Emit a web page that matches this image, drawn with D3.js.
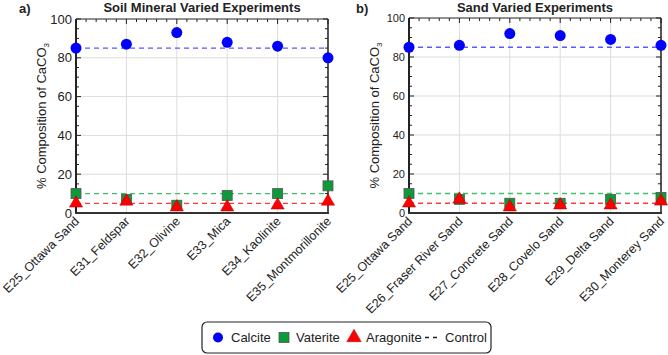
<!DOCTYPE html>
<html><head><meta charset="utf-8">
<script src="https://cdn.jsdelivr.net/npm/d3@7"></script>
<style>
body{margin:0;background:#fff;}
text{font-family:"Liberation Sans",Arial,sans-serif;fill:#222;}
</style></head>
<body><svg id="c" width="668" height="355"></svg>
<script>
const catsA = ["E25_Ottawa Sand","E31_Feldspar","E32_Olivine","E33_Mica","E34_Kaolinite","E35_Montmorillonite"];
const calciteA = [85, 87, 93, 88, 86, 80];
const vateriteA = [10, 7, 4, 9, 10, 14];
const aragoniteA = [5, 6, 3, 3, 4, 6];
const catsB = ["E25_Ottawa Sand","E26_Fraser River Sand","E27_Concrete Sand","E28_Covelo Sand","E29_Delta Sand","E30_Monterey Sand"];
const calciteB = [85, 86, 92, 91, 89, 86];
const vateriteB = [10, 7, 5, 5, 7, 8];
const aragoniteB = [5, 7, 3, 4, 4, 6];
const controls = [85, 10, 5]; // calcite, vaterite, aragonite
const yTicks = [0, 20, 40, 60, 80, 100];
const titles = ["Soil Mineral Varied Experiments", "Sand Varied Experiments"];
const panelTags = ["a)", "b)"];
const legendLabels = ["Calcite", "Vaterite", "Aragonite", "Control"];

const svg = d3.select("#c");
const colors = {calcite:"#0000ff", vaterite:"#0c9a3a", aragonite:"#ff0000"};
const ctrlColors = ["#5a5aff", "#3fc064", "#ff3a3a"];

function panel(cfg){
  const {left,right,top,bottom,cats,cal,vat,ara,title,tag,tickFont,ylabX} = cfg;
  const g = svg.append("g");
  const x = d3.scaleLinear().domain([0, cats.length-1]).range([left,right]);
  const y = d3.scaleLinear().domain([0,100]).range([bottom,top]);
  // grid
  g.selectAll(".hg").data(yTicks.slice(1,-1)).enter().append("line")
    .attr("x1",left).attr("x2",right).attr("y1",d=>y(d)).attr("y2",d=>y(d))
    .attr("stroke","#dcdcdc").attr("stroke-width",1);
  g.selectAll(".vg").data(d3.range(cats.length)).enter().append("line")
    .attr("x1",d=>x(d)).attr("x2",d=>x(d)).attr("y1",top).attr("y2",bottom)
    .attr("stroke","#dcdcdc").attr("stroke-width",1);
  // minor ticks y (left & right)
  const yMinor = d3.range(0,101,5);
  [left, right].forEach((xx,i)=>{
    const dir = i===0?1:-1;
    g.selectAll(null).data(yMinor).enter().append("line")
      .attr("x1",xx).attr("x2",d=>xx+dir*(d%20===0?5:3))
      .attr("y1",d=>y(d)).attr("y2",d=>y(d)).attr("stroke","#222").attr("stroke-width",1);
  });
  // minor ticks x (top & bottom)
  const xMinor = d3.range(0, (cats.length-1)*5+1).map(i=>i/5);
  [top].forEach(yy=>{
    g.selectAll(null).data(xMinor).enter().append("line")
      .attr("x1",d=>x(d)).attr("x2",d=>x(d))
      .attr("y1",yy).attr("y2",d=>yy+(Number.isInteger(d)?5:3)).attr("stroke","#222").attr("stroke-width",1);
  });
  // frame
  g.append("line").attr("x1",left).attr("x2",right).attr("y1",top).attr("y2",top).attr("stroke","#222").attr("stroke-width",1);
  g.append("line").attr("x1",right).attr("x2",right).attr("y1",top).attr("y2",bottom).attr("stroke","#222").attr("stroke-width",1.5);
  g.append("line").attr("x1",left).attr("x2",left).attr("y1",top).attr("y2",bottom+1).attr("stroke","#222").attr("stroke-width",2);
  g.append("line").attr("x1",left-1).attr("x2",right+1).attr("y1",bottom).attr("y2",bottom).attr("stroke","#333").attr("stroke-width",2);
  // y tick labels
  g.selectAll(".yt").data(yTicks).enter().append("text")
    .attr("x",left-4).attr("y",d=>y(d)).attr("dy","0.36em").attr("text-anchor","end")
    .style("font-size",tickFont+"px").text(d=>d);
  // y label
  const yl = g.append("text").attr("transform",`translate(${ylabX},${(top+bottom)/2}) rotate(-90)`)
    .attr("text-anchor","middle").style("font-size","13px");
  yl.append("tspan").text("% Composition of CaCO");
  yl.append("tspan").attr("dy","3").style("font-size","8px").text("3");
  // x labels
  g.selectAll(".xl").data(cats).enter().append("text")
    .attr("transform",(d,i)=>`translate(${x(i)+4},${bottom+9}) rotate(-45)`)
    .attr("text-anchor","end").style("font-size","12.5px").text(d=>d);
  // title
  g.append("text").attr("x",(left+right)/2).attr("y",12).attr("text-anchor","middle")
    .style("font-size","13px").style("font-weight","bold").text(title);
  g.append("text").attr("x",cfg.tagX).attr("y",13).style("font-size","13px").style("font-weight","bold").text(tag);
  // control lines
  g.selectAll(".ctl").data(controls).enter().append("line")
    .attr("x1",left).attr("x2",right).attr("y1",d=>y(d)).attr("y2",d=>y(d))
    .attr("stroke",(d,i)=>ctrlColors[i]).attr("stroke-width",1.3).attr("stroke-dasharray","5,4");
  // markers
  g.selectAll(".cal").data(cal).enter().append("circle")
    .attr("cx",(d,i)=>x(i)).attr("cy",d=>y(d)).attr("r",5.5).attr("fill",colors.calcite);
  g.selectAll(".vat").data(vat).enter().append("rect")
    .attr("x",(d,i)=>x(i)-5).attr("y",d=>y(d)-5).attr("width",10).attr("height",10)
    .attr("fill",colors.vaterite).attr("stroke","#555").attr("stroke-width",0.8);
  const tri = d3.symbol().type(d3.symbolTriangle).size(75);
  g.selectAll(".ara").data(ara).enter().append("path")
    .attr("d",tri).attr("transform",(d,i)=>`translate(${x(i)},${y(d)})`)
    .attr("fill",colors.aragonite).attr("stroke","#a00").attr("stroke-width",0.5);
}

panel({left:76,right:328,top:19,bottom:213,cats:catsA,cal:calciteA,vat:vateriteA,ara:aragoniteA,
  title:titles[0],tag:panelTags[0],tickFont:13,ylabX:46,tagX:19});
panel({left:409,right:661,top:18,bottom:213,cats:catsB,cal:calciteB,vat:vateriteB,ara:aragoniteB,
  title:titles[1],tag:panelTags[1],tickFont:11,ylabX:379,tagX:356});

// legend
const lg = svg.append("g");
lg.append("rect").attr("x",202).attr("y",322).attr("width",289).attr("height",31).attr("rx",5)
  .attr("fill","#fff").attr("stroke","#222").attr("stroke-width",1.2);
const ly = 337.5;
lg.append("circle").attr("cx",218).attr("cy",ly).attr("r",5).attr("fill",colors.calcite);
lg.append("rect").attr("x",279).attr("y",ly-5).attr("width",10).attr("height",10).attr("fill",colors.vaterite).attr("stroke","#555").attr("stroke-width",0.8);
lg.append("path").attr("d",d3.symbol().type(d3.symbolTriangle).size(90)).attr("transform",`translate(354,${ly})`).attr("fill",colors.aragonite).attr("stroke","#a00").attr("stroke-width",0.5);
lg.append("line").attr("x1",425).attr("x2",438).attr("y1",ly).attr("y2",ly).attr("stroke","#222").attr("stroke-width",1.5).attr("stroke-dasharray","4,4");
const lx = [231, 296, 366, 445];
lg.selectAll(".lt").data(legendLabels).enter().append("text")
  .attr("x",(d,i)=>lx[i]).attr("y",ly).attr("dy","0.36em").style("font-size","13px").text(d=>d);
</script></body></html>
